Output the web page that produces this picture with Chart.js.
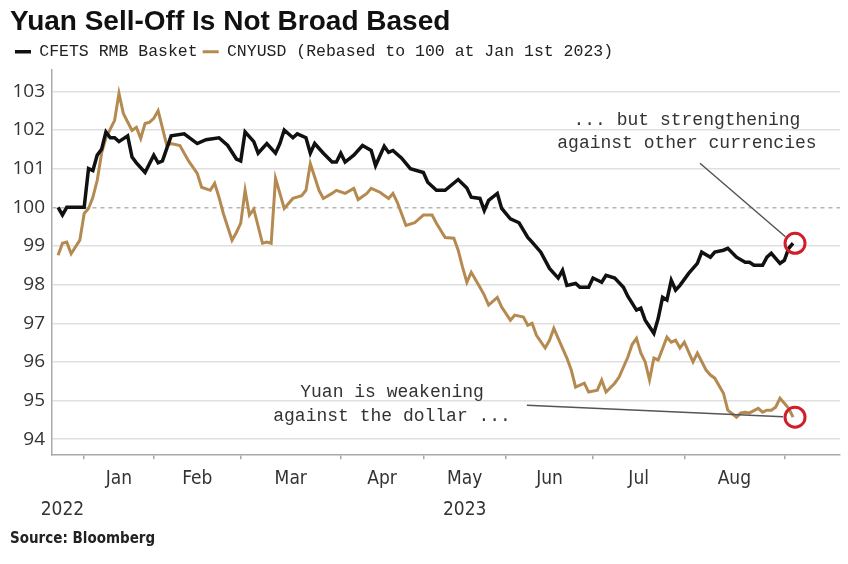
<!DOCTYPE html>
<html>
<head>
<meta charset="utf-8">
<script src="https://cdn.jsdelivr.net/npm/chart.js@4.4.0/dist/chart.umd.min.js"></script>
<style>
  html, body { margin: 0; padding: 0; background: #fff; }
  #wrap { width: 848px; height: 564px; }
</style>
</head>
<body>
<div id="wrap"><canvas id="c"></canvas></div>
<script>
// x values are trading sessions counted from Jan 1st 2023 (the chart is spaced by trading day)
var cfetsSession = [-6,-5,-4,-2,0,1,2,3,4,5,6,7,8,10,11,12,14,16,17,18,20,23,26,28,31,33,35,36,37,39,40,42,44,45,46,48,49,51,52,53,55,57,58,59,60,62,64,66,67,69,70,71,73,75,78,79,81,83,86,88,89,91,92,93,95,96,98,100,102,103,105,107,109,110,111,113,114,116,117,119,120,122,124,125,127,128,129,131,132,133,134,135,136,137,139,141,142,144,145,147,148,150,152,153,154,156,157,158,159,160,161,162,163];
var cfetsValue = [100.0,99.8,100.0,100.0,100.0,101.0,100.95,101.35,101.5,101.95,101.8,101.8,101.7,101.85,101.3,101.15,100.9,101.35,101.15,101.2,101.85,101.9,101.65,101.75,101.8,101.6,101.25,101.2,101.95,101.7,101.4,101.65,101.4,101.65,102.0,101.8,101.9,101.8,101.4,101.65,101.4,101.17,101.17,101.4,101.17,101.35,101.6,101.47,101.08,101.58,101.42,101.47,101.27,101.0,100.9,100.65,100.44,100.44,100.72,100.5,100.26,100.23,99.92,100.18,100.36,99.97,99.7,99.6,99.22,99.1,98.84,98.42,98.17,98.37,97.98,98.03,97.93,97.93,98.17,98.06,98.24,98.17,97.93,97.7,97.34,97.39,97.08,96.74,97.13,97.67,97.6,98.11,97.86,97.98,98.29,98.55,98.84,98.71,98.84,98.89,98.94,98.71,98.58,98.58,98.5,98.5,98.71,98.81,98.68,98.55,98.63,98.94,99.07];

var cnyusdSession = [-6,-5,-4,-3,-1,0,1,2,3,4,5,7,8,9,11,12,13,14,15,16,17,19,20,22,24,26,27,29,30,31,32,34,35,36,37,38,39,41,42,43,44,46,48,50,51,52,54,55,57,58,60,62,63,65,66,68,70,71,72,74,76,78,80,81,83,85,86,87,88,89,91,92,93,95,96,98,99,101,102,103,104,106,107,108,109,111,112,113,115,116,118,119,120,122,123,125,126,127,128,129,130,131,132,134,135,136,137,138,140,141,143,144,145,147,148,150,151,152,153,155,156,157,158,159,160,161,162,163];
var cnyusdValue = [98.76,99.07,99.1,98.8,99.15,99.84,99.97,100.26,100.7,101.4,101.8,102.25,102.95,102.43,101.99,102.07,101.78,102.17,102.2,102.3,102.5,101.6,101.65,101.6,101.2,100.88,100.52,100.44,100.62,100.26,99.84,99.15,99.35,99.59,100.44,99.8,99.95,99.07,99.1,99.07,100.75,99.97,100.23,100.3,100.44,101.13,100.44,100.23,100.36,100.44,100.36,100.49,100.2,100.36,100.49,100.39,100.23,100.36,100.13,99.53,99.6,99.8,99.8,99.59,99.22,99.2,98.89,98.45,98.06,98.32,97.93,97.73,97.47,97.67,97.42,97.08,97.21,97.16,96.95,97.0,96.69,96.36,96.56,96.87,96.61,96.1,95.79,95.35,95.45,95.22,95.27,95.53,95.22,95.45,95.61,96.12,96.45,96.61,96.23,96.0,95.53,96.1,96.05,96.64,96.51,96.56,96.36,96.51,96.0,96.23,95.79,95.66,95.58,95.19,94.75,94.57,94.68,94.7,94.68,94.8,94.7,94.75,94.75,94.83,95.06,94.93,94.8,94.57];

var monthStarts = [0, 16, 36, 59, 78, 97, 117, 138, 161];
var monthLabels = ['Jan', 'Feb', 'Mar', 'Apr', 'May', 'Jun', 'Jul', 'Aug'];
var yearLabels = [['2022', -5], ['2023', 87.5]];
var yTicks = [94, 95, 96, 97, 98, 99, 100, 101, 102, 103];

var xMin = -7.4, xMax = 173.8;
var NARROW = '"Liberation Sans Narrow", "DejaVu Sans Condensed", sans-serif';
var MONO = '"Liberation Mono", monospace';

// label ticks: month names at mid-month, years on a second line
var labelTicks = [];
for (var i = 0; i < monthLabels.length; i++) {
  var mid = (monthStarts[i] + monthStarts[i + 1]) / 2;
  var yr = yearLabels.filter(function (y) { return y[1] === mid; });
  labelTicks.push({ value: mid, label: yr.length ? [monthLabels[i], yr[0][0]] : [monthLabels[i]] });
}
yearLabels.forEach(function (y) {
  if (!labelTicks.some(function (t) { return t.value === y[1]; })) {
    labelTicks.unshift({ value: y[1], label: ['', y[0]] });
  }
});

function pts(s, v) {
  return s.map(function (x, i) { return { x: x, y: v[i] }; });
}

var notes = {
  id: 'notes',
  afterDatasetsDraw: function (chart) {
    var ctx = chart.ctx;
    var xs = chart.scales.x, ys = chart.scales.y;
    var r = 10;
    var ends = [0, 1].map(function (d) {
      var els = chart.getDatasetMeta(d).data;
      return els[els.length - 1];
    });

    ctx.save();
    ctx.font = '18px ' + MONO;
    ctx.fillStyle = '#333';
    ctx.textAlign = 'center';
    ctx.textBaseline = 'middle';
    var cx = xs.getPixelForValue(138.6);
    ctx.fillText('... but strengthening', cx, ys.getPixelForValue(102.25));
    ctx.fillText('against other currencies', cx, ys.getPixelForValue(101.65));
    var cx2 = xs.getPixelForValue(70.8);
    ctx.fillText('Yuan is weakening', cx2, ys.getPixelForValue(95.22));
    ctx.fillText('against the dollar ...', cx2, ys.getPixelForValue(94.6));

    // leader lines to the circled end points
    ctx.strokeStyle = '#555';
    ctx.lineWidth = 1.5;
    var starts = [[141.6, 101.14], [101.8, 94.88]];
    starts.forEach(function (s, i) {
      var x0 = xs.getPixelForValue(s[0]), y0 = ys.getPixelForValue(s[1]);
      var dx = ends[i].x - x0, dy = ends[i].y - y0, len = Math.sqrt(dx * dx + dy * dy);
      ctx.beginPath();
      ctx.moveTo(x0, y0);
      ctx.lineTo(ends[i].x - dx / len * r, ends[i].y - dy / len * r);
      ctx.stroke();
    });

    ctx.strokeStyle = '#d11f2a';
    ctx.lineWidth = 3;
    ends.forEach(function (p) {
      ctx.beginPath();
      ctx.arc(p.x + 2, p.y, r, 0, Math.PI * 2);
      ctx.stroke();
    });
    ctx.restore();
  }
};

new Chart(document.getElementById('c'), {
  type: 'line',
  data: {
    datasets: [
      {
        label: 'CFETS RMB Basket',
        data: pts(cfetsSession, cfetsValue),
        borderColor: '#111111',
        backgroundColor: '#111111',
        borderWidth: 3.5,
        pointRadius: 0,
        tension: 0
      },
      {
        label: 'CNYUSD (Rebased to 100 at Jan 1st 2023)',
        data: pts(cnyusdSession, cnyusdValue),
        borderColor: '#b58a50',
        backgroundColor: '#b58a50',
        borderWidth: 3,
        pointRadius: 0,
        tension: 0
      }
    ]
  },
  options: {
    responsive: true,
    maintainAspectRatio: false,
    animation: false,
    layout: { padding: { left: 10, right: 8, top: 5, bottom: 0 } },
    plugins: {
      title: {
        display: true,
        text: 'Yuan Sell-Off Is Not Broad Based',
        align: 'start',
        color: '#111',
        font: { family: '"Liberation Sans", Arial, sans-serif', size: 28, weight: 'bold' },
        padding: { top: 0, bottom: 0 }
      },
      legend: {
        display: true,
        align: 'start',
        labels: {
          usePointStyle: true,
          pointStyleWidth: 16,
          pointStyle: 'line',
          color: '#222',
          padding: 5,
          font: { family: MONO, size: 16.5 }
        }
      },
      subtitle: {
        display: true,
        text: 'Source: Bloomberg',
        position: 'bottom',
        align: 'start',
        color: '#222',
        font: { family: NARROW, size: 15, weight: 'bold' },
        padding: { top: 8, bottom: 16 }
      },
      tooltip: { enabled: false }
    },
    scales: {
      x: {
        type: 'linear',
        min: xMin,
        max: xMax,
        afterBuildTicks: function (axis) {
          axis.ticks = monthStarts.map(function (v) { return { value: v }; });
        },
        ticks: { display: false },
        grid: { drawOnChartArea: false, drawTicks: true, tickLength: 5, color: '#aaa', lineWidth: 1.5 },
        border: { display: true, color: '#aaa', width: 1.5 }
      },
      x2: {
        type: 'linear',
        position: 'bottom',
        min: xMin,
        max: xMax,
        afterBuildTicks: function (axis) {
          axis.ticks = labelTicks.map(function (t) { return { value: t.value }; });
        },
        ticks: {
          autoSkip: false,
          maxRotation: 0,
          padding: -4,
          color: '#333',
          font: { family: NARROW, size: 19, lineHeight: 1.65 },
          callback: function (v, i) { return labelTicks[i].label; }
        },
        grid: { display: false },
        border: { display: false }
      },
      y: {
        type: 'linear',
        min: 93.61,
        max: 103.55,
        afterBuildTicks: function (axis) {
          axis.ticks = yTicks.map(function (v) { return { value: v }; });
        },
        afterFit: function (axis) { axis.width = 42; },
        ticks: {
          padding: 7,
          color: '#333',
          font: { family: '"Open Sans", sans-serif', size: 19 }
        },
        grid: {
          drawTicks: false,
          lineWidth: 1.5,
          color: function (c) { return c.tick && c.tick.value === 100 ? '#b4b4b4' : '#e0e0e0'; }
        },
        border: {
          display: true,
          color: '#aaa',
          width: 1.5,
          dash: function (c) { return c.tick && c.tick.value === 100 ? [4, 4] : []; }
        }
      }
    }
  },
  plugins: [notes]
});
</script>
</body>
</html>
